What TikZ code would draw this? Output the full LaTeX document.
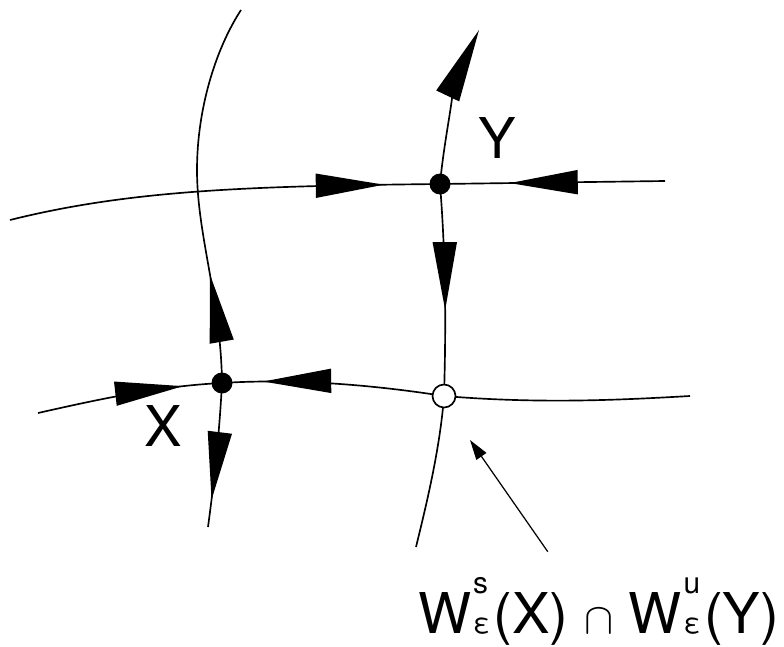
\documentclass[tikz,border=0pt]{standalone}
\usepackage{fontspec}
\setmainfont{TeX Gyre Heros}
\usetikzlibrary{arrows.meta,decorations.markings}

% manifold label W^s_eps, W^u_eps
\newcommand{\Wset}[1]{W\kern0.03em\rlap{\raisebox{0.7em}{\fontsize{17}{17}\selectfont #1}}{\fontsize{16}{16}\selectfont ε}\kern0.06em}

\begin{document}
\begin{tikzpicture}[
  x=0.02cm,y=-0.02cm,
  line width=0.95pt,
  font=\fontsize{32}{36}\selectfont,
  flow/.style={postaction={decorate},decoration={markings,
    mark=at position #1 with {\arrow{Triangle[length=1.36cm,width=0.48cm]}}}},
  dot/.style={circle,fill,inner sep=0pt,minimum size=0.42cm},
  hollow/.style={circle,draw,fill=white,inner sep=0pt,minimum size=0.46cm},
]
\useasboundingbox (0,0) rectangle (784,646);
\coordinate (X) at (222,383);
\coordinate (Y) at (440,184);
\coordinate (Z) at (444,396);
\coordinate (aim) at (470,440);

% horizontal manifolds
\draw[flow=0.87] (10,220) .. controls (130,190) and (250,186) .. (Y);
\draw[flow=0.69] (665,181) -- (Y);
\draw[flow=0.79] (38,413) .. controls (100,399) and (160,386) .. (X);
\draw[flow=0.815] (Z) .. controls (380,386) and (300,378) .. (X);
\draw (Z) .. controls (540,404) and (620,400) .. (690,396);

% vertical manifolds
\draw[flow=0.285] (X) .. controls (221,300) and (197,235) .. (197,170)
  .. controls (197,110) and (215,50) .. (241,10);
\draw[flow=0.81] (X) .. controls (219,440) and (213,490) .. (208,527);
\draw[-{Triangle[length=1.46cm,width=0.5cm]}] (Y) .. controls (445,130) and (460,70) .. (479,30);
\draw[flow=0.595] (Y) .. controls (446,260) and (446,330) .. (Z);
\draw (Z) .. controls (440,450) and (425,510) .. (416,547);

\node[dot] (Xdot) at (X) {};
\node[dot] (Ydot) at (Y) {};
\node[hollow] (Zdot) at (Z) {};
\node (Xlab) at (163,426) {X};
\node (Ylab) at (497,138) {Y};
\node[anchor=base east,inner sep=0pt] (lbl) at (780,633) {\Wset{s}(X) $\cap$ \Wset{u}(Y)};

\draw[line width=0.7pt,-{Triangle[length=0.4cm,width=0.24cm]}]
  ([xshift=-1.02cm,yshift=0.5cm]lbl.north) -- (aim);
\end{tikzpicture}
\end{document}
